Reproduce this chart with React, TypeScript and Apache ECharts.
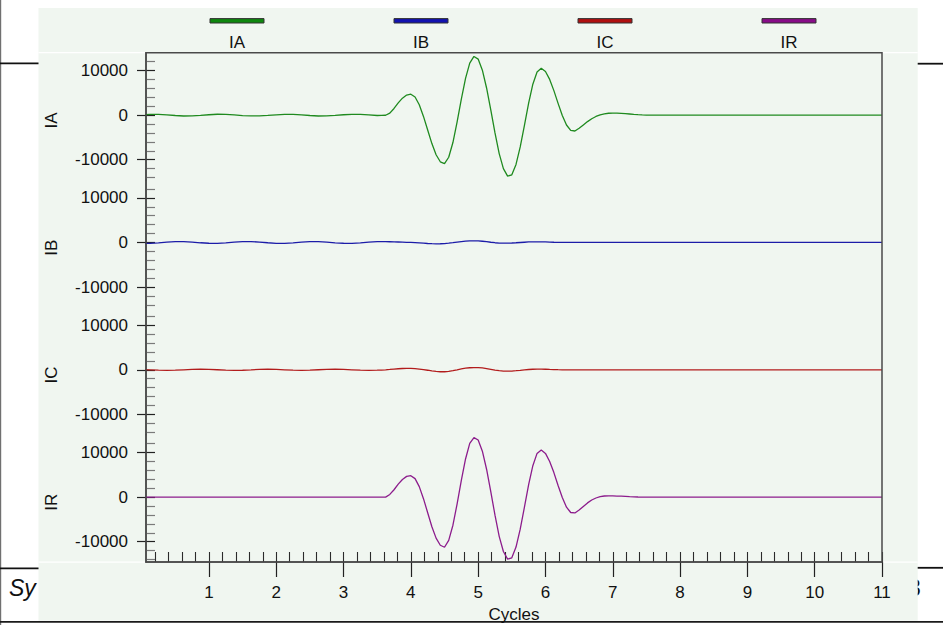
import React, { useEffect, useRef } from "react";
import * as echarts from "echarts";

// Sample instants in power-frequency cycles (coarser before the disturbance, 16/cycle during it).
const CYCLES = [
  0, 0.125, 0.25, 0.375, 0.5, 0.625, 0.75, 0.875,
  1, 1.125, 1.25, 1.375, 1.5, 1.625, 1.75, 1.875,
  2, 2.125, 2.25, 2.375, 2.5, 2.625, 2.75, 2.875,
  3, 3.125, 3.25, 3.375, 3.5,
  3.5625, 3.625, 3.6875, 3.75, 3.8125, 3.875, 3.9375,
  4, 4.0625, 4.125, 4.1875, 4.25, 4.3125, 4.375, 4.4375,
  4.5, 4.5625, 4.625, 4.6875, 4.75, 4.8125, 4.875, 4.9375,
  5, 5.0625, 5.125, 5.1875, 5.25, 5.3125, 5.375, 5.4375,
  5.5, 5.5625, 5.625, 5.6875, 5.75, 5.8125, 5.875, 5.9375,
  6, 6.0625, 6.125, 6.1875, 6.25, 6.3125, 6.375, 6.4375,
  6.5, 6.5625, 6.625, 6.6875, 6.75, 6.8125, 6.875, 6.9375,
  7, 7.0625, 7.125, 7.1875, 7.25, 7.3125, 7.375, 7.4375, 7.5,
  11,
];

const IA = [
  85, 190, 180, 70, -85, -190, -180, -70,
  90, 195, 175, 65, -90, -185, -175, -75,
  80, 185, 185, 75, -80, -195, -185, -65,
  85, 190, 180, 70, -80,
  -60, -30, 450, 1500, 2750, 3800, 4500,
  4700, 4080, 2330, -290, -3340, -6380, -8880, -10460,
  -10870, -9440, -6140, -1500, 3600, 8260, 11660, 13160,
  12570, 10080, 6090, 1160, -4000, -8620, -11990, -13670,
  -13370, -11050, -7130, -2270, 2700, 6940, 9690, 10490,
  9770, 8010, 5500, 2640, -75, -2210, -3420, -3560,
  -2950, -2200, -1450, -800, -300, 80, 300, 420,
  450, 440, 400, 330, 250, 170, 100, 50, 20,
  0,
];

const IB = [
  -180, -190, -85, 70, 180, 190, 85, -70,
  -175, -195, -90, 65, 175, 195, 90, -65,
  -185, -185, -80, 75, 185, 185, 80, -75,
  -180, -190, -85, 70, 180,
  190, 180, 160, 130, 100, 70, 40,
  0, -50, -110, -170, -230, -280, -300, -290,
  -250, -170, -60, 70, 190, 290, 350, 370,
  340, 270, 170, 50, -60, -130, -160, -150,
  -120, -70, -10, 50, 110, 140, 150, 140,
  110, 80, 50, 30, 10, 0, 0, 0,
  0, 0, 0, 0, 0, 0, 0, 0,
  0, 0, 0, 0, 0, 0, 0, 0, 0,
  0,
];

const IC = [
  95, 0, -95, -140, -95, 0, 95, 140,
  90, 5, -90, -140, -100, -5, 95, 140,
  100, 0, -95, -135, -95, 5, 90, 140,
  95, 0, -95, -140, -95,
  -60, 0, 70, 150, 230, 290, 320,
  300, 240, 150, 30, -100, -250, -370, -440,
  -440, -360, -210, -20, 180, 350, 460, 500,
  490, 410, 270, 100, -70, -200, -280, -300,
  -280, -210, -120, -20, 60, 120, 150, 150,
  120, 80, 50, 20, 0, 0, 0, 0,
  0, 0, 0, 0, 0, 0, 0, 0,
  0, 0, 0, 0, 0, 0, 0, 0, 0,
  0,
];

const IR = [
  0, 0, 0, 0, 0, 0, 0, 0,
  0, 0, 0, 0, 0, 0, 0, 0,
  0, 0, 0, 0, 0, 0, 0, 0,
  0, 0, 0, 0, 0,
  0, 0, 600, 1650, 2900, 3950, 4650,
  4800, 4150, 2350, -350, -3500, -6650, -9200, -10800,
  -11250, -9700, -6300, -1500, 3750, 8550, 12050, 13350,
  12800, 10300, 6250, 1250, -4050, -8800, -12200, -13900,
  -13600, -11200, -7200, -2250, 2800, 7050, 9800, 10550,
  9800, 8000, 5500, 2600, -100, -2250, -3450, -3550,
  -2900, -2100, -1300, -650, -200, 100, 250, 280,
  270, 240, 200, 150, 100, 60, 30, 10, 0,
  0,
];

const CHANNEL_NAMES = ["IA", "IB", "IC", "IR"];
const CHANNEL_VALUES = [IA, IB, IC, IR];

const X_TICKS = [1, 2, 3, 4, 5, 6, 7, 8, 9, 10, 11];
const Y_TICKS = [-10000, 0, 10000];
const Y_MINOR_TICKS = [-14000, -12000, -8000, -6000, -4000, -2000, 2000, 4000, 6000, 8000, 12000];

const X_MIN = 0.065;
const X_MAX = 11;
const Y_MIN = -14550;
const Y_MAX = 14000;

// Styling and layout
const LINE_COLORS = ["#1f8a1f", "#1c1ca8", "#b21c1c", "#8c1c8c"];
const SWATCH_COLORS = ["#0e870e", "#1212b0", "#b01010", "#880c88"];
const FONT = '"Liberation Sans", Arial, sans-serif';
const FONT_SIZE = 17;
const PLOT_LEFT = 146;
const PLOT_RIGHT = 882;
const PLOT_TOP = 52.7;
const PLOT_BOTTOM = 562;
const BAND_H = (PLOT_BOTTOM - PLOT_TOP) / 4;
const LEGEND_CENTERS = [237, 421, 605, 789];

// minor x ticks every 0.2 cycle between the whole-cycle ticks
const X_MINOR_TICKS: number[] = [];
for (let i = 1; i < X_MAX * 5; i++) {
  if (i % 5 !== 0) X_MINOR_TICKS.push(i / 5);
}

function buildOption() {
  const grids: any[] = [];
  const xAxes: any[] = [];
  const yAxes: any[] = [];
  const series: any[] = [];

  const hiddenLabel = { show: false };
  const noSplit = { show: false };

  for (let k = 0; k < 4; k++) {
    const top = PLOT_TOP + k * BAND_H;
    const bottomBand = k === 3;
    for (let layer = 0; layer < 3; layer++) {
      const idx = k * 3 + layer;
      grids.push({
        left: PLOT_LEFT,
        top,
        width: PLOT_RIGHT - PLOT_LEFT,
        height: BAND_H,
        containLabel: false,
        outerBoundsMode: "none",
      });

      // x axes: only the bottom band draws the cycle scale
      const xBase: any = {
        type: "value",
        gridIndex: idx,
        min: X_MIN,
        max: X_MAX,
        splitLine: noSplit,
        axisLine: { onZero: false, show: false },
      };
      if (!bottomBand) {
        xAxes.push({ ...xBase, show: false });
      } else if (layer === 0) {
        xAxes.push({
          ...xBase,
          axisLine: { onZero: false, show: true, lineStyle: { color: "#4a4a4a", width: 1.5 } },
          axisTick: {
            show: true,
            customValues: X_TICKS,
            inside: false,
            length: 15,
            lineStyle: { color: "#222", width: 1.2 },
          },
          axisLabel: {
            show: true,
            customValues: X_TICKS,
            margin: 22,
            fontSize: FONT_SIZE,
            color: "#111",
            fontFamily: FONT,
          },
          name: "Cycles",
          nameLocation: "middle",
          nameGap: 44,
          nameTextStyle: { fontSize: FONT_SIZE, color: "#111", fontFamily: FONT },
        });
      } else {
        xAxes.push({
          ...xBase,
          axisTick: {
            show: true,
            customValues: layer === 1 ? X_MINOR_TICKS : X_TICKS,
            inside: true,
            length: 10,
            lineStyle: { color: "#2a2a2a", width: 1.1 },
          },
          axisLabel: hiddenLabel,
        });
      }

      // y axes: labels + outward major ticks, inward minor ticks, inward major ticks
      const yBase: any = {
        type: "value",
        gridIndex: idx,
        min: Y_MIN,
        max: Y_MAX,
        position: "left",
        splitLine: noSplit,
        axisLine: { onZero: false, show: false },
      };
      if (layer === 0) {
        yAxes.push({
          ...yBase,
          axisLine: { onZero: false, show: true, lineStyle: { color: "#4a4a4a", width: 1.5 } },
          axisTick: {
            show: true,
            customValues: Y_TICKS,
            inside: false,
            length: 9,
            lineStyle: { color: "#222", width: 1.2 },
          },
          axisLabel: {
            show: true,
            customValues: Y_TICKS,
            margin: 18,
            fontSize: FONT_SIZE,
            color: "#111",
            fontFamily: FONT,
            formatter: (v: number) => String(v),
          },
          name: CHANNEL_NAMES[k],
          nameLocation: "middle",
          nameRotate: 90,
          nameGap: 86,
          nameTextStyle: {
            fontSize: FONT_SIZE,
            color: "#111",
            fontFamily: FONT,
            padding: [0, 8, 0, 0],
          },
        });
      } else {
        yAxes.push({
          ...yBase,
          axisTick: {
            show: true,
            customValues: layer === 1 ? Y_MINOR_TICKS : Y_TICKS,
            inside: true,
            length: 9,
            lineStyle: { color: layer === 1 ? "#7a7a7a" : "#222", width: 1.2 },
          },
          axisLabel: hiddenLabel,
        });
      }
    }

    series.push({
      type: "line",
      name: CHANNEL_NAMES[k],
      xAxisIndex: k * 3,
      yAxisIndex: k * 3,
      data: CYCLES.map((t, i) => [t, CHANNEL_VALUES[k][i]]),
      showSymbol: false,
      symbol: "none",
      clip: true,
      lineStyle: { color: LINE_COLORS[k], width: 1.3 },
      itemStyle: { color: LINE_COLORS[k] },
      z: 3,
    });
  }

  const graphics: any[] = [
    // document page behind the panel
    { type: "rect", z: -40, shape: { x: 0, y: 0, width: 1.2, height: 625 }, style: { fill: "#707070" } },
    { type: "rect", z: -40, shape: { x: 0, y: 62.4, width: 40, height: 1.8 }, style: { fill: "#111" } },
    { type: "rect", z: -40, shape: { x: 916, y: 62.8, width: 27, height: 1.8 }, style: { fill: "#111" } },
    { type: "rect", z: -40, shape: { x: 0, y: 567.4, width: 40, height: 1.8 }, style: { fill: "#111" } },
    { type: "rect", z: -40, shape: { x: 916, y: 566.9, width: 27, height: 1.8 }, style: { fill: "#111" } },
    {
      type: "text",
      z: -40,
      x: 9,
      y: 588,
      style: { text: "Sy", font: `italic 23px ${FONT}`, fill: "#111", verticalAlign: "middle" },
    },
    {
      type: "text",
      z: -40,
      x: 908,
      y: 588,
      style: { text: "3", font: `23px ${FONT}`, fill: "#111", verticalAlign: "middle" },
    },
    // oscillography panel
    { type: "rect", z: -30, shape: { x: 38.5, y: 8, width: 879.2, height: 612.8 }, style: { fill: "#f0f6f0" } },
    { type: "rect", z: -20, shape: { x: 0, y: 621, width: 943, height: 1.8 }, style: { fill: "#1a1a1a" } },
    { type: "rect", z: -25, shape: { x: 38.5, y: 52, width: 879.2, height: 1.2 }, style: { fill: "#ffffff" } },
    { type: "rect", z: -25, shape: { x: 38.5, y: 561.6, width: 879.2, height: 1.2 }, style: { fill: "#ffffff" } },
    // plot frame
    {
      type: "rect",
      z: 4,
      shape: { x: PLOT_LEFT, y: PLOT_TOP, width: PLOT_RIGHT - PLOT_LEFT, height: PLOT_BOTTOM - PLOT_TOP },
      style: { fill: "none", stroke: "#4a4a4a", lineWidth: 1.5 },
    },
  ];

  // legend: swatch above its label
  CHANNEL_NAMES.forEach((name, k) => {
    const cx = LEGEND_CENTERS[k];
    graphics.push({
      type: "rect",
      z: 4,
      shape: { x: cx - 27, y: 18.6, width: 54, height: 4.4 },
      style: { fill: SWATCH_COLORS[k], stroke: "#333", lineWidth: 1 },
    });
    graphics.push({
      type: "text",
      z: 4,
      x: cx,
      y: 42.6,
      style: { text: name, font: `${FONT_SIZE}px ${FONT}`, fill: "#111", align: "center", verticalAlign: "middle" },
    });
  });

  return {
    animation: false,
    backgroundColor: "#ffffff",
    textStyle: { fontFamily: FONT },
    grid: grids,
    xAxis: xAxes,
    yAxis: yAxes,
    series,
    graphic: { elements: graphics },
  };
}

export default function App() {
  const ref = useRef<HTMLDivElement | null>(null);

  useEffect(() => {
    if (!ref.current) return;
    const chart = echarts.init(ref.current, undefined, { renderer: "svg" });
    chart.setOption(buildOption() as any);
    return () => {
      chart.dispose();
    };
  }, []);

  return (
    <div
      ref={ref}
      style={{ position: "absolute", left: 0, top: 0, width: 943, height: 625 }}
    />
  );
}
